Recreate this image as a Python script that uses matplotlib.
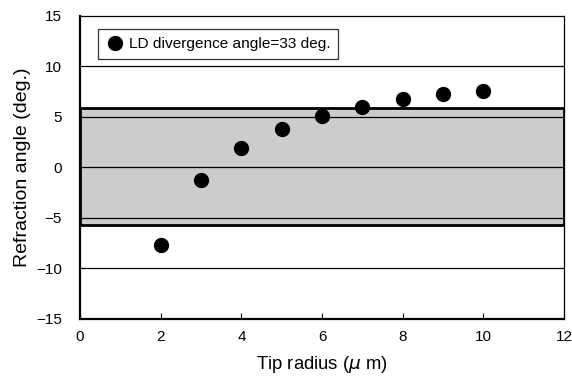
import matplotlib
matplotlib.use("Agg")
import matplotlib.pyplot as plt
from matplotlib.patches import Rectangle

plt.rcParams['font.family'] = ['Liberation Sans', 'DejaVu Sans']

tip_radius = [2, 3, 4, 5, 6, 7, 8, 9, 10]
refraction = [-7.65, -1.25, 1.9, 3.8, 5.1, 6.0, 6.75, 7.3, 7.6]
band_low, band_high = -5.7, 5.9
legend_label = "LD divergence angle=33 deg."

fig = plt.figure(figsize=(5.72, 3.77), dpi=100)
ax = fig.add_axes([0.14, 0.154, 0.846, 0.804])

ax.set_xlim(0, 12)
ax.set_ylim(-15, 15)
ax.add_patch(Rectangle((0, band_low), 12, band_high - band_low, facecolor='#cccccc',
                       edgecolor='black', linewidth=2.0, zorder=1))
for yv in [-10, -5, 0, 5, 10]:
    ax.axhline(yv, color='black', linewidth=0.9, zorder=2)

ax.plot(tip_radius, refraction, 'o', color='black', markersize=10, zorder=3,
        label=legend_label)

ax.set_xticks([0, 2, 4, 6, 8, 10, 12])
ax.set_yticks([-15, -10, -5, 0, 5, 10, 15])
ax.set_yticklabels(['\u221215', '\u221210', '\u22125', '0', '5', '10', '15'])
ax.tick_params(axis='x', direction='in', length=4, width=0.8, labelsize=11, pad=8)
ax.tick_params(axis='y', length=0, labelsize=11, pad=13)
for s in ['left', 'bottom']:
    ax.spines[s].set_linewidth(1.6)
for s in ['right', 'top']:
    ax.spines[s].set_linewidth(0.9)

ax.set_xlabel('Tip radius ($\\mu$ m)', fontsize=13.3, labelpad=7)
ax.set_ylabel('Refraction angle (deg.)', fontsize=14, labelpad=4)

leg = ax.legend(loc='upper left', bbox_to_anchor=(0.037, 0.955), fontsize=11.1,
                frameon=True, fancybox=False, edgecolor='black', handletextpad=0.3,
                borderpad=0.5, handlelength=1.2, borderaxespad=0)
leg.get_frame().set_linewidth(0.9)

fig.savefig('out.png', dpi=100)
